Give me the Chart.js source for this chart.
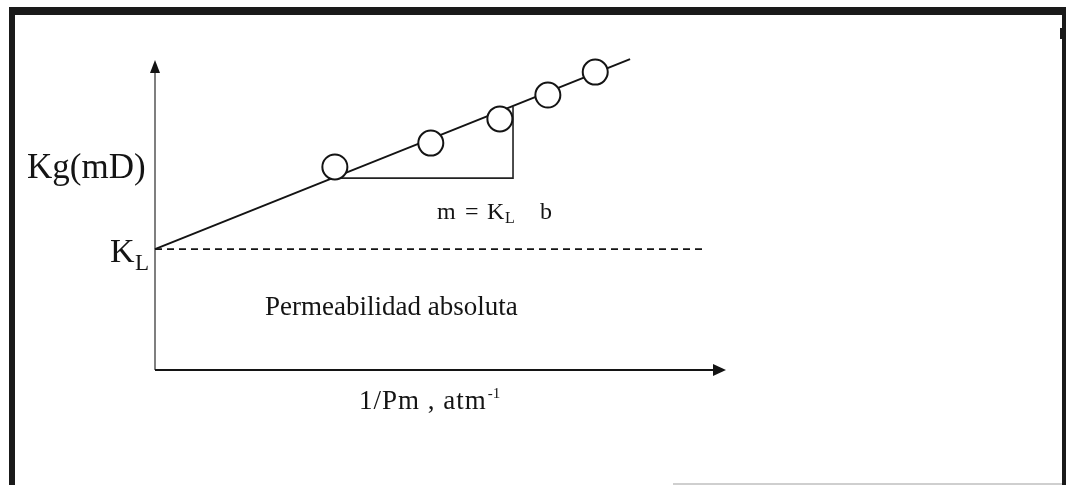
<!DOCTYPE html>
<html>
<head>
<meta charset="utf-8">
<script src="https://cdn.jsdelivr.net/npm/chart.js@4/dist/chart.umd.min.js"></script>
<style>
  html, body { margin: 0; padding: 0; background: #fff; }
  canvas { display: block; }
</style>
</head>
<body>
<canvas id="klinkenberg" width="1066" height="485"></canvas>
<script>
// measured points: 1/Pm (atm^-1) vs Kg (mD)
const invPressure = [0.315, 0.483, 0.604, 0.688, 0.771];
const gasPerm = [6.55, 7.32, 8.10, 8.87, 9.61];

// Klinkenberg intercept
const kL = 3.9;

// straight-line fit, extrapolated back to 1/Pm = 0
const fitX = [0, 0.832];
const fitY = [kL, 10.03];

// slope triangle under the fit
const triX = [0.303, 0.627, 0.627];
const triY = [6.19, 6.19, 8.5];

// dashed level at K_L
const refX = [0, 0.963];
const refY = [kL, kL];

const axisMax = { x: 1, y: 10 };

const ink = "#141414";
const serif = "'Liberation Serif', 'Times New Roman', serif";

const pairs = (xs, ys) => xs.map((x, i) => ({ x: x, y: ys[i] }));

const axesPlugin = {
    id: "axes",
    beforeDatasetsDraw(chart) {
        const ctx = chart.ctx;
        const xs = chart.scales.x, ys = chart.scales.y;
        const x0 = xs.getPixelForValue(0), y0 = ys.getPixelForValue(0);
        const yTop = ys.getPixelForValue(axisMax.y);
        const xEnd = xs.getPixelForValue(axisMax.x);
        ctx.save();

        // vertical axis
        ctx.strokeStyle = "#555";
        ctx.lineWidth = 1.5;
        ctx.beginPath();
        ctx.moveTo(x0, y0);
        ctx.lineTo(x0, yTop + 12);
        ctx.stroke();
        ctx.fillStyle = ink;
        ctx.beginPath();
        ctx.moveTo(x0, yTop);
        ctx.lineTo(x0 - 5, yTop + 13);
        ctx.lineTo(x0 + 5, yTop + 13);
        ctx.closePath();
        ctx.fill();

        // horizontal axis
        ctx.strokeStyle = ink;
        ctx.lineWidth = 2;
        ctx.beginPath();
        ctx.moveTo(x0, y0);
        ctx.lineTo(xEnd - 12, y0);
        ctx.stroke();
        ctx.beginPath();
        ctx.moveTo(xEnd, y0);
        ctx.lineTo(xEnd - 13, y0 - 6);
        ctx.lineTo(xEnd - 13, y0 + 6);
        ctx.closePath();
        ctx.fill();
        ctx.restore();
    },
    afterDraw(chart) {
        const ctx = chart.ctx;
        const xs = chart.scales.x, ys = chart.scales.y;
        const x0 = xs.getPixelForValue(0), y0 = ys.getPixelForValue(0);
        const yKL = ys.getPixelForValue(kL);
        const cx = xs.getPixelForValue(triX[1]), cy = ys.getPixelForValue(triY[1]);
        ctx.save();
        ctx.fillStyle = ink;
        ctx.textBaseline = "alphabetic";
        ctx.textAlign = "left";

        // y axis name
        ctx.font = "35px " + serif;
        ctx.fillText("Kg(mD)", x0 - 128, cy);

        // K_L at the intercept
        ctx.font = "34px " + serif;
        ctx.fillText("K", x0 - 45, yKL + 13);
        ctx.font = "23px " + serif;
        ctx.fillText("L", x0 - 20, yKL + 21);

        // slope note, m = K_L b
        ctx.font = "24px " + serif;
        ctx.fillText("m", cx - 76, cy + 41);
        ctx.fillText("=", cx - 48, cy + 41);
        ctx.fillText("K", cx - 26, cy + 41);
        ctx.font = "16px " + serif;
        ctx.fillText("L", cx - 8, cy + 45);
        ctx.font = "24px " + serif;
        ctx.fillText("b", cx + 27, cy + 41);

        ctx.font = "27px " + serif;
        ctx.fillText("Permeabilidad absoluta", x0 + 110, y0 - 55);

        // x axis name with superscript
        ctx.font = "27px " + serif;
        ctx.letterSpacing = "1px";
        const main = "1/Pm , atm";
        ctx.fillText(main, x0 + 204, y0 + 39);
        const w = ctx.measureText(main).width;
        ctx.letterSpacing = "0px";
        ctx.font = "15px " + serif;
        ctx.fillText("-1", x0 + 205 + w, y0 + 28);

        // frame
        ctx.fillStyle = "#1a1a1a";
        ctx.fillRect(9, 7, 1057, 8);
        ctx.fillRect(9, 7, 6, 478);
        ctx.fillRect(1062, 7, 4, 478);
        ctx.fillRect(1060, 28, 3, 11);
        ctx.fillStyle = "#cfcfcf";
        ctx.fillRect(673, 483, 389, 2);
        ctx.restore();
    }
};

new Chart(document.querySelector("#klinkenberg"), {
    type: "scatter",
    data: {
        datasets: [
            {
                label: "Kg",
                data: pairs(invPressure, gasPerm),
                pointRadius: 12.5,
                pointBorderWidth: 2,
                pointBackgroundColor: "#fff",
                pointBorderColor: ink,
                showLine: false,
                clip: false,
                order: 0
            },
            {
                label: "ajuste",
                data: pairs(fitX, fitY),
                showLine: true,
                borderColor: ink,
                borderWidth: 2,
                pointRadius: 0,
                clip: false,
                order: 1
            },
            {
                label: "pendiente",
                data: pairs(triX, triY),
                showLine: true,
                borderColor: "#222",
                borderWidth: 1.6,
                pointRadius: 0,
                clip: false,
                order: 2
            },
            {
                label: "KL",
                data: pairs(refX, refY),
                showLine: true,
                borderColor: ink,
                borderWidth: 1.6,
                borderDash: [7, 5],
                pointRadius: 0,
                clip: false,
                order: 3
            }
        ]
    },
    options: {
        responsive: false,
        devicePixelRatio: 1,
        animation: false,
        events: [],
        layout: { padding: { left: 155, right: 340, top: 60, bottom: 115 } },
        plugins: { legend: { display: false }, tooltip: { enabled: false } },
        scales: {
            x: { type: "linear", min: 0, max: axisMax.x, display: false },
            y: { type: "linear", min: 0, max: axisMax.y, display: false }
        }
    },
    plugins: [axesPlugin]
});
</script>
</body>
</html>
